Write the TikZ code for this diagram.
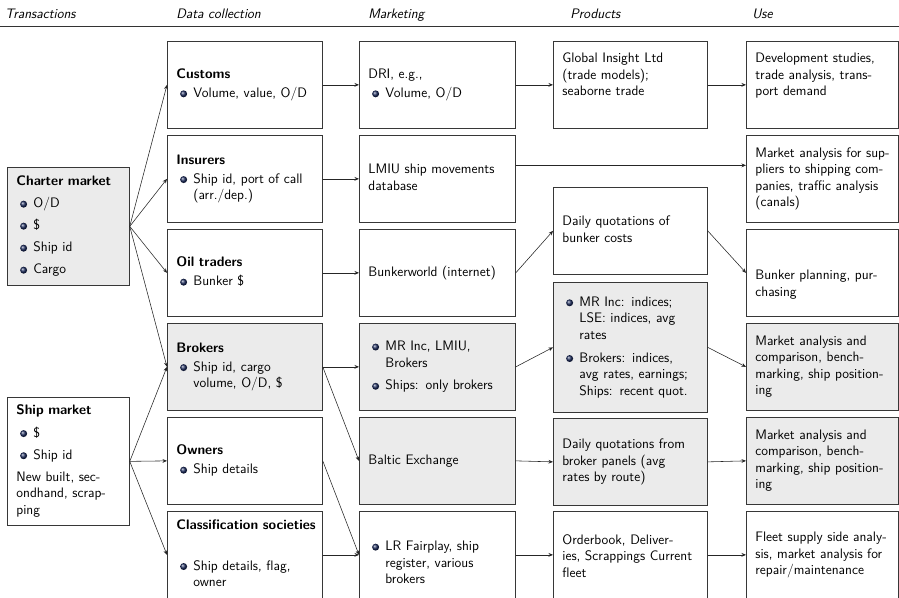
\documentclass[tikz,border=0pt]{standalone}
\usetikzlibrary{arrows.meta}
\renewcommand{\familydefault}{\sfdefault}

\definecolor{ballblue}{RGB}{30,45,95}
\definecolor{cellgray}{RGB}{235,235,235}
\definecolor{edgegray}{RGB}{55,55,55}

% shaded item bullet
\pgfdeclareradialshading{itemball}{\pgfqpoint{-10bp}{10bp}}{%
  color(0bp)=(ballblue!15!white); color(9bp)=(ballblue!75!white);
  color(18bp)=(ballblue!70!black); color(25bp)=(ballblue!50!black);
  color(50bp)=(black)}
\newcommand\ball{\begin{pgfpicture}%
  \pgfpathcircle{\pgfpoint{0pt}{3pt}}{2.8pt}\pgfshadepath{itemball}{0}%
  \end{pgfpicture}}
\newcommand\bl{\hspace*{3pt}\ball\hspace{5pt}}
\newcommand\ind{\hspace*{13.6pt}}
\newcommand\fs{\fontsize{11}{13.2}\selectfont}
\newcommand\cellt[1]{\begin{tabular}{@{}l@{}}#1\end{tabular}}
% invisible struts that move a cell's text down (padtop) or up (padbot)
\newcommand\padtop[1]{\rule{0pt}{#1}}
\newcommand\padbot[1]{\rule[-#1]{0pt}{1pt}}

\tikzset{
  cell/.style={draw=edgegray, line width=0.6pt, anchor=north west, align=left,
               inner xsep=7.2pt, inner ysep=2pt, font=\fs},
  shaded/.style={cell, fill=cellgray},
  c0/.style={text width=83.2pt, minimum width=97.6pt},
  c1/.style={text width=109.6pt, minimum width=124pt},
  c2/.style={text width=110.4pt, minimum width=124.8pt},
  c3/.style={text width=108.8pt, minimum width=123.2pt},
  c4/.style={text width=107.2pt, minimum width=121.6pt},
  rowh/.style={minimum height=69.6pt},
  arr/.style={-{Stealth[length=3.6pt,width=3pt]}, line width=0.45pt, black!85},
  head/.style={anchor=base west, inner sep=0pt, font=\fs\itshape},
}

\begin{document}
\begin{tikzpicture}[x=0.8pt,y=-0.8pt]
\useasboundingbox (0,0) rectangle (899,598);

% column headings and rule
\node[head] (hT) at (5,19) {Transactions};
\node[head] (hD) at (176,19) {Data collection};
\node[head] (hM) at (368,19) {Marketing};
\node[head] (hP) at (570,19) {Products};
\node[head] (hU) at (752,19) {Use};
\draw[line width=0.6pt, black!80] (0,26) -- (899,26);

% transactions
\node[shaded,c0,minimum height=94.4pt] (charter) at (7,167)
  {\cellt{\textbf{Charter market}\\[4.4pt]\bl O/D\\[4.4pt]\bl \$\\[4.4pt]\bl Ship id\\[4.4pt]\bl Cargo}};
\node[cell,c0,minimum height=102.4pt] (ship) at (7,397)
  {\cellt{\textbf{Ship market}\\[4.5pt]\bl \$\\[4.5pt]\bl Ship id\\[4.5pt]New built, sec-\\ondhand, scrap-\\ping}};

% data collection
\node[cell,c1,rowh] (customs) at (167,41) {\cellt{\textbf{Customs}\\[1.5pt]\bl Volume, value, O/D}};
\node[cell,c1,rowh] (insurers) at (167,135) {\cellt{\textbf{Insurers}\\[1.5pt]\bl Ship id, port of call\\\ind(arr./dep.)}};
\node[cell,c1,rowh] (oil) at (167,229) {\cellt{\textbf{Oil traders}\\[2pt]\bl Bunker \$}};
\node[shaded,c1,rowh] (brokers) at (167,323) {\cellt{\textbf{Brokers}\\[1.5pt]\bl Ship id, cargo\\\ind volume, O/D, \$}};
\node[cell,c1,rowh] (owners) at (167,417) {\cellt{\textbf{Owners}\\[2pt]\bl Ship details}};
\node[cell,c1,rowh] (class) at (167,511) {\cellt{\textbf{Classification societies}\\[19pt]\bl Ship details, flag,\\\ind owner}};

% marketing
\node[cell,c2,rowh] (dri) at (359,41) {\cellt{DRI, e.g.,\\[1.5pt]\bl Volume, O/D}};
\node[cell,c2,rowh] (lmiu) at (359,135) {\cellt{LMIU ship movements\\database}};
\node[cell,c2,rowh] (bw) at (359,229) {\cellt{Bunkerworld (internet)}};
\node[shaded,c2,rowh] (mr) at (359,323) {\cellt{\bl MR Inc, LMIU,\\\ind Brokers\\[5pt]\bl Ships: only brokers}};
\node[shaded,c2,rowh] (baltic) at (359,417) {\cellt{Baltic Exchange}};
\node[cell,c2,rowh] (lr) at (359,511) {\cellt{\padtop{23.6pt}\bl LR Fairplay, ship\\\ind register, various\\\ind brokers}};

% products
\node[cell,c3,rowh] (gi) at (553,41) {\cellt{Global Insight Ltd\\(trade models);\\seaborne trade\padbot{18.4pt}}};
\node[cell,c3,rowh] (dq1) at (553,187) {\cellt{Daily quotations of\\bunker costs}};
\node[shaded,c3,minimum height=104pt] (rates) at (553,282)
  {\cellt{\bl MR Inc: indices;\\\ind LSE: indices, avg\\\ind rates\\[5pt]\bl Brokers: indices,\\\ind avg rates, earnings;\\\ind Ships: recent quot.}};
\node[shaded,c3,rowh] (dq2) at (553,418) {\cellt{Daily quotations from\\broker panels (avg\\rates by route)}};
\node[cell,c3,rowh] (ob) at (553,511) {\cellt{\padtop{13.2pt}Orderbook, Deliver-\\ies, Scrappings Current\\fleet}};

% use
\node[cell,c4,rowh] (dev) at (746,41) {\cellt{Development studies,\\trade analysis, trans-\\port demand\padbot{18.4pt}}};
\node[cell,c4,rowh] (supp) at (746,135) {\cellt{Market analysis for sup-\\pliers to shipping com-\\panies, traffic analysis\\(canals)}};
\node[cell,c4,rowh] (bunk) at (746,229) {\cellt{\padtop{28.4pt}Bunker planning, pur-\\chasing}};
\node[shaded,c4,rowh] (ma1) at (746,323) {\cellt{Market analysis and\\comparison, bench-\\marking, ship position-\\ing}};
\node[shaded,c4,rowh] (ma2) at (746,417) {\cellt{Market analysis and\\comparison, bench-\\marking, ship position-\\ing}};
\node[cell,c4,rowh] (fleet) at (746,511) {\cellt{Fleet supply side analy-\\sis, market analysis for\\repair/maintenance}};

% flows from the markets
\foreach \t in {customs,insurers,oil,brokers} \draw[arr] (charter.east) -- (\t.west);
\foreach \t in {brokers,owners,class} \draw[arr] (ship.east) -- (\t.west);

% flows along the rows
\draw[arr] (customs.east) -- (dri.west);
\draw[arr] (dri.east) -- (gi.west);
\draw[arr] (gi.east) -- (dev.west);
\draw[arr] (insurers.east) -- (lmiu.west);
\draw[arr] ([yshift=10.8pt]lmiu.east) -- ([yshift=10.8pt]supp.west);
\draw[arr] (oil.east) -- (bw.west);
\draw[arr] (bw.east) -- (dq1.west);
\draw[arr] (dq1.east) -- (bunk.west);
\draw[arr] (brokers.east) -- (mr.west);
\draw[arr] (brokers.east) -- (baltic.west);
\draw[arr] (mr.east) -- (rates.west);
\draw[arr] (rates.east) -- (ma1.west);
\draw[arr] (owners.east) -- (lr.west);
\draw[arr] (baltic.east) -- (dq2.west);
\draw[arr] (dq2.east) -- (ma2.west);
\draw[arr] (class.east) -- (lr.west);
\draw[arr] (lr.east) -- (ob.west);
\draw[arr] (ob.east) -- (fleet.west);
\end{tikzpicture}
\end{document}
